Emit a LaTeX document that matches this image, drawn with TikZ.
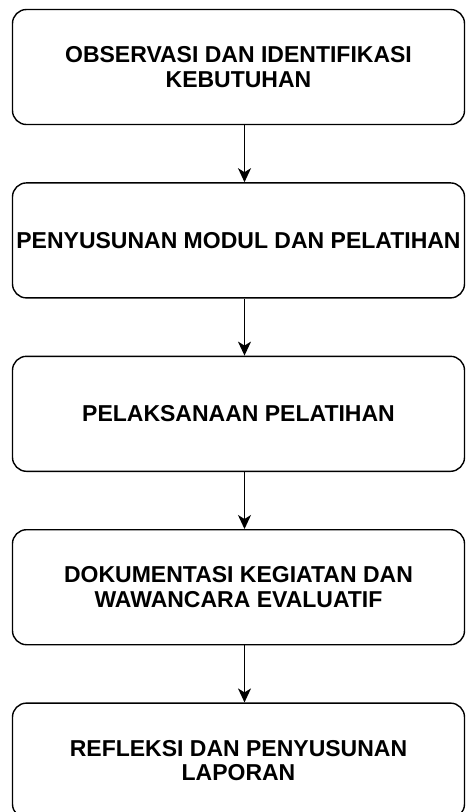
\documentclass[tikz,border=0pt]{standalone}
\usepackage{fontspec}
\setmainfont{Liberation Sans}
\usetikzlibrary{positioning,arrows.meta}

\begin{document}
\begin{tikzpicture}[x=1pt, y=1pt,
        node distance=57pt,
        stepbox/.style={draw=black, line width=1.4pt, rounded corners=14pt,
            minimum width=452pt, minimum height=115pt, inner sep=0pt,
            align=center, font=\fontsize{23}{24.5}\selectfont\bfseries},
        flow/.style={line width=1.4pt, -{Stealth[length=14pt, width=13pt, inset=4pt]}}]
        \useasboundingbox (0,0) rectangle (467,-812);
        \def\shift{6pt}
        % Tahap 1
        \node[stepbox] (obs) at (238.5,-67) {OBSERVASI DAN IDENTIFIKASI\\KEBUTUHAN};
        % Tahap 2
        \node[stepbox, below=of obs] (modul) {PENYUSUNAN MODUL DAN PELATIHAN};
        % Tahap 3
        \node[stepbox, below=of modul] (pelaks) {PELAKSANAAN PELATIHAN};
        % Tahap 4
        \node[stepbox, below=of pelaks] (dok) {DOKUMENTASI KEGIATAN DAN\\WAWANCARA EVALUATIF};
        % Tahap 5
        \node[stepbox, below=of dok] (refl) {REFLEKSI DAN PENYUSUNAN\\LAPORAN};

        % Panah
        \draw[flow] ([xshift=\shift]obs.south) -- ([xshift=\shift]modul.north);
        \draw[flow] ([xshift=\shift]modul.south) -- ([xshift=\shift]pelaks.north);
        \draw[flow] ([xshift=\shift]pelaks.south) -- ([xshift=\shift]dok.north);
        \draw[flow] ([xshift=\shift]dok.south) -- ([xshift=\shift]refl.north);
    \end{tikzpicture}
\end{document}
